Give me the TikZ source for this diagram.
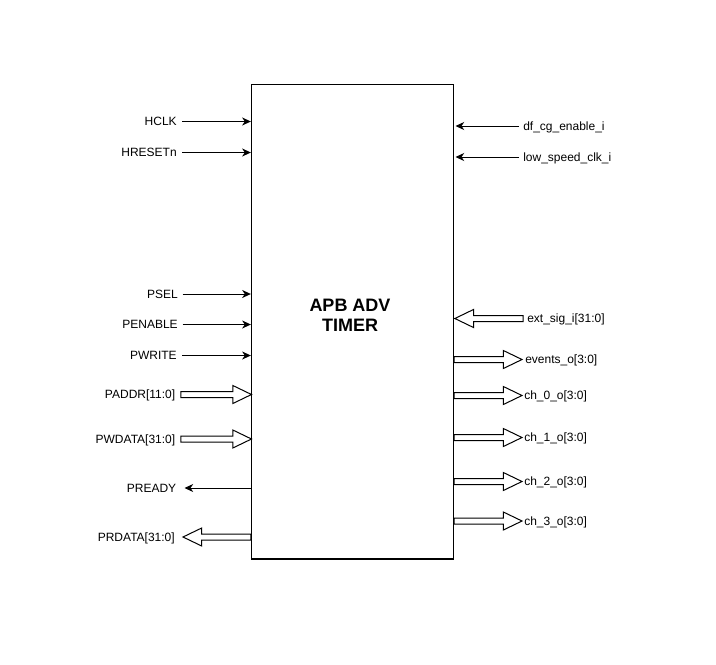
\documentclass[tikz,border=0pt]{standalone}
\usepackage{fontspec}
\setmainfont{Liberation Sans}
\usetikzlibrary{arrows.meta,calc}
\tikzset{
  lbl/.style={inner sep=0pt, font=\fontsize{9pt}{10.8pt}\selectfont, text height=6.45pt, text depth=0pt},
  sig/.style={line width=0.75pt, -{Stealth[length=6.5pt,width=6pt,inset=2pt]}},
  bus/.style={line width=0.75pt, draw=black, fill=white, line join=miter},
  blockbox/.style={draw, line width=1pt, minimum width=151.5pt, minimum height=355.9pt, inner sep=0pt},
  ttl/.style={inner sep=0pt, align=center, font=\fontsize{13.5pt}{15pt}\selectfont\bfseries}
}
% rightward bus arrow: #1 tail, #2 tip
\newcommand\busR[2]{\draw[bus] let \p1=#1, \p2=#2 in
  (\x1,\y1+2.25pt) -- (\x2-14pt,\y1+2.25pt) -- (\x2-14pt,\y1+6.75pt) -- (\x2,\y1)
  -- (\x2-14pt,\y1-6.75pt) -- (\x2-14pt,\y1-2.25pt) -- (\x1,\y1-2.25pt) -- cycle;}
% leftward bus arrow: #1 tail, #2 tip
\newcommand\busL[2]{\draw[bus] let \p1=#1, \p2=#2 in
  (\x1,\y1+2.25pt) -- (\x2+14pt,\y1+2.25pt) -- (\x2+14pt,\y1+6.75pt) -- (\x2,\y1)
  -- (\x2+14pt,\y1-6.75pt) -- (\x2+14pt,\y1-2.25pt) -- (\x1,\y1-2.25pt) -- cycle;}
\begin{document}
\begin{tikzpicture}[x=0.75pt,y=-0.75pt]
\useasboundingbox[fill=white] (0,0) rectangle (716,664);
% main block
\node[blockbox] (box) at (352.5,321.75) {};
\node[ttl] (title) at (350,315) {APB ADV\\TIMER};

% left labels
\node[lbl,anchor=east] (hclk)   at (177,121.5) {HCLK};
\node[lbl,anchor=east] (hrst)   at (177,152.5) {HRESETn};
\node[lbl,anchor=east] (psel)   at (178,294)   {PSEL};
\node[lbl,anchor=east] (pen)    at (178,324.5) {PENABLE};
\node[lbl,anchor=east] (pwr)    at (177,355.5) {PWRITE};
\node[lbl,anchor=east] (paddr)  at (175.5,394.5) {PADDR[11:0]};
\node[lbl,anchor=east] (pwdata) at (175.5,439)   {PWDATA[31:0]};
\node[lbl,anchor=east] (prdy)   at (176.5,488)   {PREADY};
\node[lbl,anchor=east] (prdata) at (175,537)     {PRDATA[31:0]};

\draw[sig] ([xshift=4pt]hclk.east) -- (box.west |- hclk.east);
\draw[sig] ([xshift=4pt]hrst.east) -- (box.west |- hrst.east);
\draw[sig] ([xshift=3.5pt]psel.east) -- (box.west |- psel.east);
\draw[sig] ([xshift=3.5pt]pen.east) -- (box.west |- pen.east);
\draw[sig] ([xshift=4pt]pwr.east) -- (box.west |- pwr.east);
\busR{([xshift=4pt]paddr.east)}{([xshift=0.5pt]box.west |- paddr.east)}
\busR{([xshift=4pt]pwdata.east)}{([xshift=0.5pt]box.west |- pwdata.east)}
\draw[sig] (box.west |- prdy.east) -- ([xshift=6pt]prdy.east);
\busL{(box.west |- prdata.east)}{([xshift=6pt]prdata.east)}

% right labels
\node[lbl,anchor=west] (dfcg)  at (523,126)   {df\_cg\_enable\_i};
\node[lbl,anchor=west] (lsclk) at (523,157)   {low\_speed\_clk\_i};
\node[lbl,anchor=west] (ext)   at (527,318.5) {ext\_sig\_i[31:0]};
\node[lbl,anchor=west] (evt)   at (525,359.5) {events\_o[3:0]};
\node[lbl,anchor=west] (ch0)   at (524,395.5) {ch\_0\_o[3:0]};
\node[lbl,anchor=west] (ch1)   at (524,437.5) {ch\_1\_o[3:0]};
\node[lbl,anchor=west] (ch2)   at (524,481.5) {ch\_2\_o[3:0]};
\node[lbl,anchor=west] (ch3)   at (524,521)   {ch\_3\_o[3:0]};

\draw[sig] ([xshift=-3pt]dfcg.west) -- ([xshift=1pt]box.east |- dfcg.west);
\draw[sig] ([xshift=-3pt]lsclk.west) -- ([xshift=1pt]box.east |- lsclk.west);
\busL{([xshift=-3pt]ext.west)}{([xshift=0.5pt]box.east |- ext.west)}
\busR{(box.east |- evt.west)}{([xshift=-2.25pt]evt.west)}
\busR{(box.east |- ch0.west)}{([xshift=-1.5pt]ch0.west)}
\busR{(box.east |- ch1.west)}{([xshift=-1.5pt]ch1.west)}
\busR{(box.east |- ch2.west)}{([xshift=-1.5pt]ch2.west)}
\busR{(box.east |- ch3.west)}{([xshift=-1.5pt]ch3.west)}
\end{tikzpicture}
\end{document}
